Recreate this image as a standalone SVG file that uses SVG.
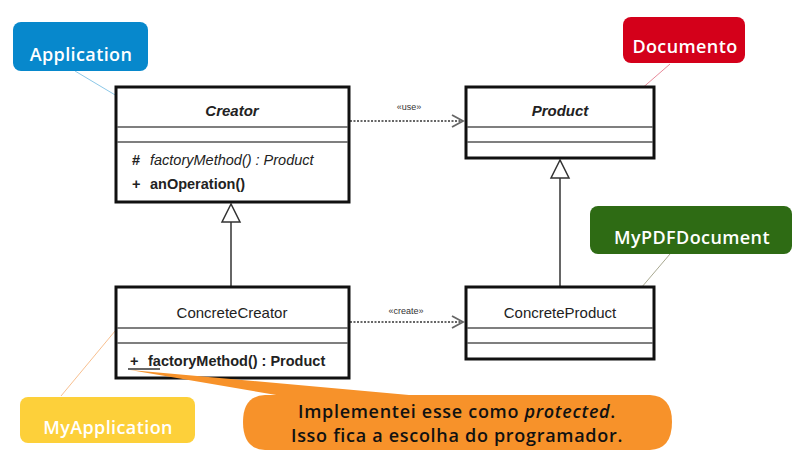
<svg xmlns="http://www.w3.org/2000/svg" width="806" height="461" viewBox="0 0 806 461">
<style>
.box{fill:#fff;stroke:#111;stroke-width:3}
.sep{stroke:#555;stroke-width:1.5}
.cls{font-family:"Liberation Sans",Arial,sans-serif;font-size:14.5px;fill:#222}
.nm{font-size:15px;text-anchor:middle}
.note{font-family:"Open Sans","DejaVu Sans",sans-serif;font-size:18px;fill:#fff;text-anchor:middle;font-weight:600;letter-spacing:0.4px}
.bub{font-family:"Open Sans","DejaVu Sans",sans-serif;font-size:18px;fill:#111;text-anchor:middle;font-weight:600;letter-spacing:0.7px}
.st{font-family:"Liberation Sans",Arial,sans-serif;font-size:9px;fill:#333;text-anchor:middle}
.dash{stroke:#666;stroke-width:2;stroke-dasharray:2 1.5;fill:none}
.gen{stroke:#333;stroke-width:1.5;fill:none}
</style>
<defs>
<marker id="open" markerWidth="14" markerHeight="14" refX="12" refY="7" orient="auto" markerUnits="userSpaceOnUse">
<path d="M1,1 L12,7 L1,13" fill="none" stroke="#666" stroke-width="1.8"/>
</marker>
</defs>
<rect width="806" height="461" fill="#fff"/>

<g id="connectors">
<line class="dash" x1="350" y1="121" x2="463" y2="121" marker-end="url(#open)"/>
<text class="st" x="409" y="110">«use»</text>
<line class="dash" x1="350" y1="322" x2="463" y2="322" marker-end="url(#open)"/>
<text class="st" x="406" y="314">«create»</text>
<line class="gen" x1="231" y1="222" x2="231" y2="286"/>
<path d="M231,204 L222,222 L240,222 Z" fill="#fff" stroke="#333" stroke-width="1.5"/>
<line class="gen" x1="560" y1="178" x2="560" y2="286"/>
<path d="M560,160 L551,178 L569,178 Z" fill="#fff" stroke="#333" stroke-width="1.5"/>
<line x1="75" y1="71" x2="142" y2="111" stroke="#8cc8e8" stroke-width="1"/>
<line x1="670" y1="64" x2="624" y2="104" stroke="#e88a9a" stroke-width="1"/>
<line x1="670" y1="254" x2="624" y2="308" stroke="#a8a890" stroke-width="1"/>
<line x1="61" y1="396" x2="135" y2="307" stroke="#f8c090" stroke-width="1"/>
</g>

<g id="Creator">
<rect class="box" x="116" y="87" width="233" height="115"/>
<line class="sep" x1="117" y1="127" x2="348" y2="127"/>
<line class="sep" x1="117" y1="142" x2="348" y2="142"/>
<text class="cls nm" x="232" y="116" font-weight="bold" font-style="italic">Creator</text>
<text class="cls" x="132" y="165" font-weight="bold" fill="#444">#</text>
<text class="cls" x="150" y="165" font-style="italic" fill="#444">factoryMethod() : Product</text>
<text class="cls" x="132" y="189" font-weight="bold">+</text>
<text class="cls" x="150" y="189" font-weight="bold">anOperation()</text>
</g>

<g id="Product">
<rect class="box" x="466" y="87" width="188" height="71"/>
<line class="sep" x1="467" y1="127" x2="653" y2="127"/>
<line class="sep" x1="467" y1="142" x2="653" y2="142"/>
<text class="cls nm" x="560" y="116" font-weight="bold" font-style="italic">Product</text>
</g>

<g id="ConcreteCreator">
<rect class="box" x="116" y="287" width="233" height="91"/>
<line class="sep" x1="117" y1="328" x2="348" y2="328"/>
<line class="sep" x1="117" y1="343" x2="348" y2="343"/>
<text class="cls nm" x="232" y="318">ConcreteCreator</text>
<text class="cls" x="130" y="366" font-weight="bold">+</text>
<text class="cls" x="148" y="366" font-weight="bold">factoryMethod() : Product</text>
</g>

<g id="ConcreteProduct">
<rect class="box" x="466" y="287" width="188" height="72"/>
<line class="sep" x1="467" y1="328" x2="653" y2="328"/>
<line class="sep" x1="467" y1="343" x2="653" y2="343"/>
<text class="cls nm" x="560" y="318">ConcreteProduct</text>
</g>

<g id="Application">
<rect x="13" y="22" width="135" height="49" rx="8" fill="#0788cc"/>
<text class="note" x="81" y="61">Application</text>
</g>

<g id="Documento">
<rect x="623" y="17" width="122" height="46" rx="8" fill="#d4001a"/>
<text class="note" x="685" y="53">Documento</text>
</g>

<g id="MyPDFDocument">
<rect x="590" y="206" width="202" height="48" rx="8" fill="#2e6b14"/>
<text class="note" x="692" y="244">MyPDFDocument</text>
</g>

<g id="MyApplication">
<rect x="20" y="397" width="175" height="46" rx="8" fill="#fdd03a"/>
<text class="note" x="108" y="434">MyApplication</text>
</g>

<g id="Nota">
<line x1="128" y1="369" x2="160" y2="369" stroke="#333" stroke-width="1.5"/>
<path d="M130,370 L420,396 L300,399 Z" fill="#f7922a"/>
<path d="M265,395 L650,395 Q672,396 672,422 Q672,449 650,450 L265,450 Q243,449 243,422 Q243,396 265,395 Z" fill="#f7922a"/>
<text class="bub" x="457" y="418">Implementei esse como <tspan font-style="italic">protected</tspan>.</text>
<text class="bub" x="457" y="442">Isso fica a escolha do programador.</text>
</g>
</svg>
